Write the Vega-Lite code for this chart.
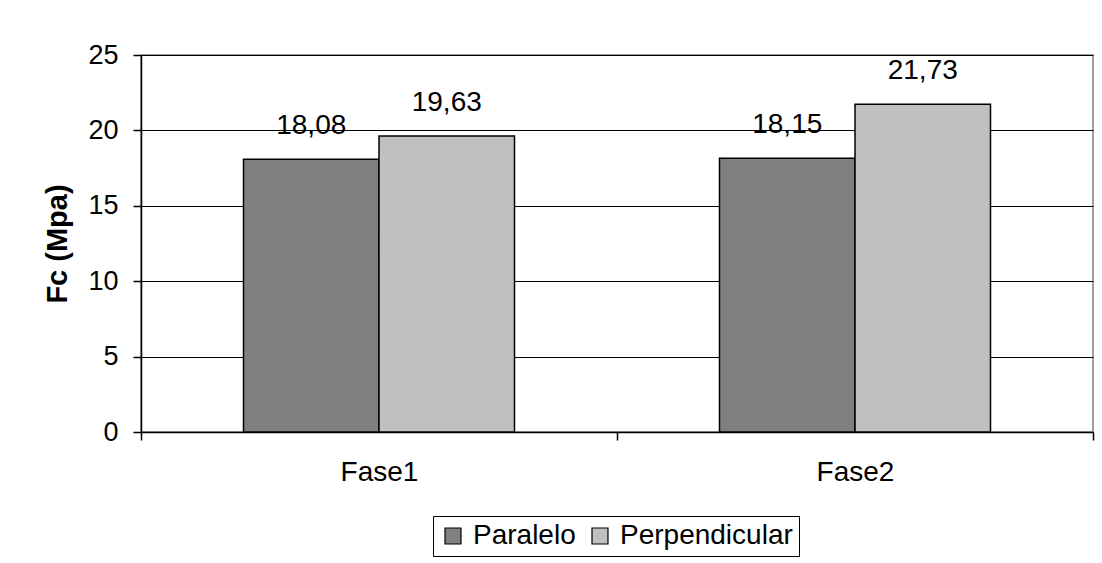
{
  "$schema": "https://vega.github.io/schema/vega-lite/v6.json",
  "width": 952,
  "height": 377,
  "autosize": {"type": "none"},
  "padding": {"left": 141, "top": 55, "right": 9, "bottom": 131},
  "background": "white",
  "config": {
    "font": "Liberation Sans",
    "view": {"stroke": "#808080", "strokeWidth": 1.5},
    "axis": {"domainColor": "black", "tickColor": "black", "labelColor": "black", "titleColor": "black", "labelFont": "Liberation Sans", "titleFont": "Liberation Sans"}
  },
  "data": {
    "values": [
      {"fase": "Fase1", "serie": "Paralelo", "fc": 18.08, "etiqueta": "18,08"},
      {"fase": "Fase1", "serie": "Perpendicular", "fc": 19.63, "etiqueta": "19,63"},
      {"fase": "Fase2", "serie": "Paralelo", "fc": 18.15, "etiqueta": "18,15"},
      {"fase": "Fase2", "serie": "Perpendicular", "fc": 21.73, "etiqueta": "21,73"}
    ]
  },
  "encoding": {
    "x": {
      "field": "fase", "type": "nominal",
      "scale": {"paddingInner": 0, "paddingOuter": 0},
      "axis": {"title": null, "labelAngle": 0, "labelFontSize": 28, "labelPadding": 18, "tickBand": "extent", "tickSize": 8, "domainWidth": 1.5, "tickWidth": 1.5, "grid": false}
    },
    "xOffset": {"field": "serie", "type": "nominal", "scale": {"paddingInner": 0, "paddingOuter": 0.7565}},
    "y": {
      "field": "fc", "type": "quantitative",
      "scale": {"domain": [0, 25]},
      "axis": {"title": "Fc (Mpa)", "titleFontSize": 29, "titleFontWeight": "bold", "titleX": -69, "titleBaseline": "bottom", "values": [0, 5, 10, 15, 20, 25], "labelFontSize": 27, "labelPadding": 15, "tickSize": 8, "tickWidth": 1.5, "domainWidth": 1.5, "grid": true, "gridColor": "black", "gridWidth": 1.2, "format": "d"}
    }
  },
  "layer": [
    {
      "mark": {"type": "bar", "stroke": "black", "strokeWidth": 1.5},
      "encoding": {
        "color": {
          "field": "serie", "type": "nominal",
          "scale": {"domain": ["Paralelo", "Perpendicular"], "range": ["#808080", "#C0C0C0"]},
          "legend": {
            "title": null, "orient": "none", "direction": "horizontal",
            "legendX": 292, "legendY": 461,
            "symbolType": "square", "symbolSize": 256, "symbolStrokeColor": "black", "symbolStrokeWidth": 1.2, "symbolOpacity": 1,
            "labelFontSize": 28, "labelColor": "black", "labelOffset": 6, "labelLimit": 400, "columnPadding": 10,
            "strokeColor": "black", "padding": 6, "fillColor": "white"
          }
        }
      }
    },
    {
      "mark": {"type": "text", "baseline": "bottom", "dy": -19, "fontSize": 28, "color": "black", "font": "Liberation Sans"},
      "encoding": {"text": {"field": "etiqueta", "type": "nominal"}}
    }
  ]
}
